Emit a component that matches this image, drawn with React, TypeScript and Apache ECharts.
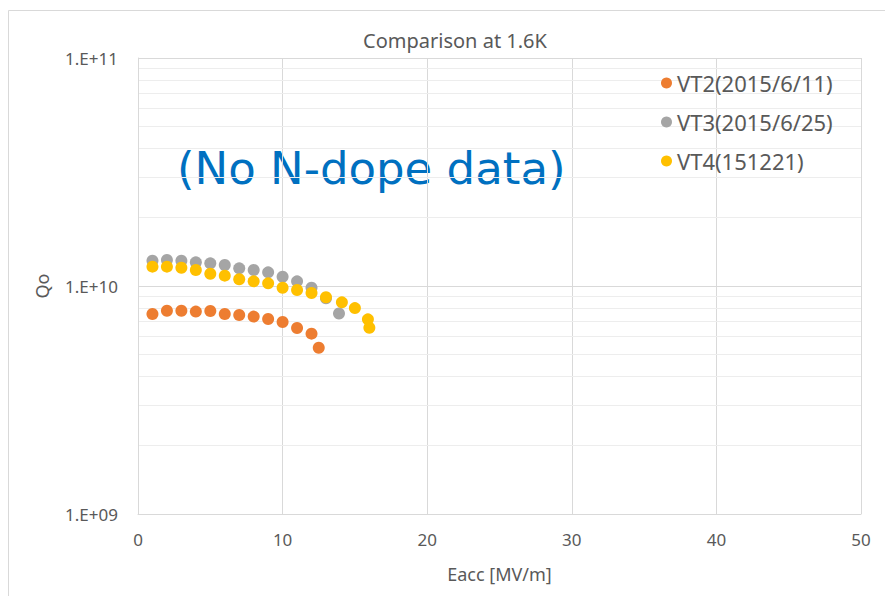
import React, { useEffect, useRef } from "react";
import * as echarts from "echarts";

// Eacc [MV/m] and Qo for each vertical test
const vt2Eacc = [1, 2, 3, 4, 5, 6, 7, 8, 9, 10, 11, 12, 12.5];
const vt2Qo = [7.54e9, 7.79e9, 7.79e9, 7.72e9, 7.77e9, 7.54e9, 7.46e9, 7.34e9, 7.17e9, 6.95e9, 6.54e9, 6.18e9, 5.36e9];

const vt3Eacc = [1, 2, 3, 4, 5, 6, 7, 8, 9, 10, 11, 12, 13, 13.9];
const vt3Qo = [1.29e10, 1.3e10, 1.29e10, 1.27e10, 1.257e10, 1.236e10, 1.195e10, 1.175e10, 1.148e10, 1.098e10, 1.048e10, 9.83e9, 8.83e9, 7.57e9];

const vt4Eacc = [1, 2, 3, 4, 5, 6, 7, 8, 9, 10, 11, 12, 13, 14.1, 15, 15.9, 16];
const vt4Qo = [1.216e10, 1.216e10, 1.203e10, 1.175e10, 1.132e10, 1.11e10, 1.07e10, 1.048e10, 1.027e10, 9.83e9, 9.6e9, 9.32e9, 8.92e9, 8.48e9, 8.0e9, 7.14e9, 6.56e9];

const seriesNames = ["VT2(2015/6/11)", "VT3(2015/6/25)", "VT4(151221)"];
const seriesColors = ["#ED7D31", "#A5A5A5", "#FFC000"];

// Minor gridlines of the log axis
const minorGridValues = [2e9, 3e9, 4e9, 5e9, 6e9, 7e9, 8e9, 9e9, 2e10, 3e10, 4e10, 5e10, 6e10, 7e10, 8e10, 9e10];

const pairs = (xs: number[], ys: number[]) => xs.map((x, i) => [x, ys[i]]);

export default function App() {
  const ref = useRef<HTMLDivElement>(null);

  useEffect(() => {
    if (!ref.current) return;
    const chart = echarts.init(ref.current, null, { renderer: "svg" });
    const textColor = "#595959";
    const gridColor = "#D9D9D9";

    const dataSets = [pairs(vt2Eacc, vt2Qo), pairs(vt3Eacc, vt3Qo), pairs(vt4Eacc, vt4Qo)];

    chart.setOption({
      animation: false,
      textStyle: { fontFamily: "Noto Sans", color: textColor },
      title: {
        text: "Comparison at 1.6K",
        left: 450,
        top: 25,
        textAlign: "center",
        textStyle: { fontSize: 20, fontWeight: "normal", color: textColor, fontFamily: "Noto Sans" },
      },
      legend: {
        data: seriesNames,
        orient: "vertical",
        left: 656,
        top: 66,
        icon: "circle",
        itemWidth: 11,
        itemHeight: 11,
        itemGap: 15,
        textStyle: { fontSize: 22, color: textColor, lineHeight: 24, padding: [0, 0, 0, 0] },
        selectedMode: false,
      },
      grid: { left: 138, top: 58, width: 723, height: 456, containLabel: false },
      xAxis: {
        type: "value",
        min: 0,
        max: 50,
        interval: 10,
        name: "Eacc [MV/m]",
        nameLocation: "middle",
        nameGap: 51,
        nameTextStyle: { fontSize: 18, color: textColor },
        axisLine: { show: true, lineStyle: { color: gridColor } },
        axisTick: { show: false },
        axisLabel: { fontSize: 17, color: textColor, margin: 17 },
        splitLine: { show: true, lineStyle: { color: gridColor } },
      },
      yAxis: {
        type: "log",
        logBase: 10,
        min: 1e9,
        max: 1e11,
        name: "Qo",
        nameLocation: "middle",
        nameGap: 87,
        nameRotate: 90,
        nameTextStyle: { fontSize: 18, color: textColor },
        axisLine: { show: true, lineStyle: { color: gridColor } },
        axisTick: { show: false },
        axisLabel: {
          fontSize: 17,
          color: textColor,
          margin: 20,
          formatter: (v: number) => "1.E+" + String(Math.round(Math.log10(v))).padStart(2, "0"),
        },
        splitLine: { show: true, lineStyle: { color: gridColor } },
      },
      graphic: [
        {
          type: "rect",
          shape: { x: 8.5, y: 10.5, width: 900, height: 600 },
          style: { fill: "none", stroke: gridColor, lineWidth: 1 },
          silent: true,
        },
        {
          type: "text",
          left: 177,
          top: 146,
          style: {
            text: "(No N-dope data)",
            fontSize: 45,
            fontFamily: "DejaVu Sans",
            fill: "#0070C0",
          },
          silent: true,
        },
      ],
      series: [
        {
          name: "minor-grid",
          type: "scatter",
          data: [],
          z: 0,
          silent: true,
          markLine: {
            silent: true,
            symbol: "none",
            z: 0,
            label: { show: false },
            lineStyle: { color: "#EDEDED", type: "solid", width: 1 },
            data: minorGridValues.map((v) => ({ yAxis: v })),
          },
        },
        ...seriesNames.map((name, i) => ({
          name,
          type: "scatter",
          data: dataSets[i],
          symbol: "circle",
          symbolSize: 12,
          itemStyle: { color: seriesColors[i], opacity: 1 },
          emphasis: { disabled: true },
          z: 3 + i,
        })),
      ],
    });

    return () => chart.dispose();
  }, []);

  return (
    <div
      ref={ref}
      style={{ position: "absolute", left: 0, top: 0, width: 885, height: 596, background: "#fff" }}
    />
  );
}
